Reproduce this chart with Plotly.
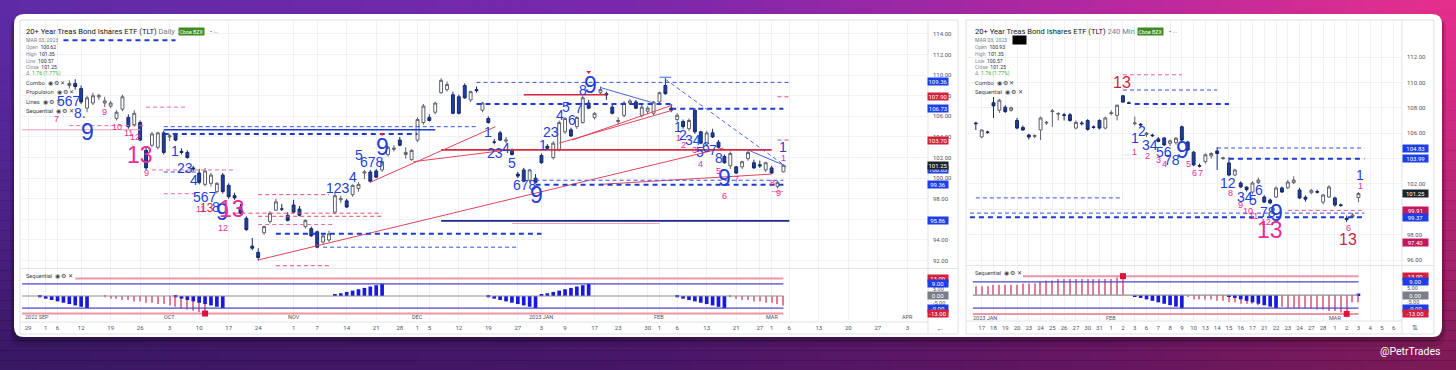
import plotly.graph_objects as go

W, H = 1456, 370
UI = "Roboto"
NUM = "Liberation Sans"


def fx(x):
    return x / W


def fy(y):
    return 1 - y / H


# ======================= DATA =======================
# ---- Left chart: TLT daily, x = trading-day index counted from 2022-08-29 ----
L_IDX = list(range(7, 129))
L_OPEN = [109.0, 109.2, 108.7, 106.8, 107.3, 107.9, 107.3, 107.0, 105.8, 106.7,
          105.9, 105.2, 105.4, 102.7, 103.2, 103.0, 104.4, 104.0, 104.2, 102.6,
          102.5, 101.0, 100.5, 99.4, 99.5, 98.7, 100.3, 99.3, 98.3, 97.2,
          96.1, 93.4, 92.8, 94.7, 95.8, 96.9, 97.0, 96.4, 97.4, 97.0,
          95.3, 95.1, 94.8, 93.8, 94.0, 96.7, 97.9, 97.8, 98.4, 99.0,
          100.5, 100.6, 100.7, 100.8, 102.3, 102.8, 103.7, 102.3, 101.8, 103.7,
          105.4, 105.9, 106.4, 108.3, 108.6, 108.1, 107.9, 109.0, 107.6, 108.6,
          106.6, 105.8, 103.5, 104.4, 103.6, 102.7, 100.4, 100.8, 99.8, 100.0,
          102.2, 103.1, 102.0, 102.8, 104.5, 104.7, 105.0, 105.4, 107.3, 105.9,
          108.3, 108.2, 106.9, 105.5, 106.1, 107.3, 107.4, 106.1, 106.5, 106.3,
          107.4, 109.0, 106.8, 105.7, 105.5, 104.8, 106.6, 104.5, 103.3, 104.4,
          103.5, 102.1, 101.2, 101.1, 101.1, 101.9, 101.5, 101.3, 100.8, 101.0,
          99.2, 100.62]
L_HIGH = [109.5, 109.6, 109.0, 108.0, 108.3, 108.2, 107.9, 107.5, 106.6, 108.1,
          106.2, 106.6, 105.6, 103.0, 104.5, 104.5, 104.6, 104.3, 104.4, 102.9,
          102.7, 101.2, 100.9, 101.0, 100.5, 99.6, 100.5, 99.5, 98.6, 97.5,
          96.3, 94.2, 93.2, 95.4, 96.8, 98.0, 97.5, 96.7, 97.9, 97.3,
          96.0, 95.3, 94.9, 94.6, 94.9, 98.6, 98.3, 98.0, 99.4, 99.6,
          100.8, 100.8, 100.9, 101.7, 103.1, 103.2, 104.0, 103.0, 102.8, 105.9,
          107.2, 106.2, 107.4, 109.7, 109.4, 108.4, 108.1, 109.2, 108.5, 108.9,
          107.4, 106.0, 103.8, 104.6, 104.0, 102.9, 100.6, 101.0, 100.9, 100.4,
          102.4, 103.3, 103.6, 105.6, 105.9, 104.9, 106.0, 108.0, 107.6, 106.4,
          108.9, 108.4, 107.2, 105.9, 107.5, 107.7, 107.6, 107.1, 107.0, 107.5,
          108.4, 109.7, 107.2, 106.3, 105.7, 105.8, 106.8, 104.6, 104.6, 104.8,
          103.7, 102.3, 102.6, 101.2, 101.7, 102.7, 101.8, 101.7, 101.6, 101.2,
          99.7, 101.35]
L_LOW = [108.7, 108.6, 107.2, 106.4, 107.1, 107.6, 106.9, 106.8, 105.6, 106.5,
         104.8, 105.0, 103.6, 100.8, 103.0, 102.8, 102.3, 103.6, 103.6, 102.3,
         101.9, 100.7, 99.4, 99.2, 99.2, 98.5, 98.5, 98.0, 97.9, 96.5,
         94.9, 93.0, 92.0, 94.5, 95.6, 96.8, 96.8, 95.8, 96.6, 96.3,
         95.1, 94.3, 93.2, 93.6, 93.8, 96.5, 97.6, 97.1, 98.2, 98.7,
         99.9, 99.6, 100.0, 100.6, 102.1, 102.6, 103.1, 101.9, 101.7, 103.5,
         105.2, 105.5, 106.2, 108.2, 108.4, 106.2, 106.2, 107.7, 107.4, 108.3,
         106.4, 105.3, 103.3, 103.6, 103.4, 102.2, 100.0, 99.6, 99.6, 99.5,
         101.4, 102.8, 101.8, 102.6, 104.3, 104.0, 104.8, 105.3, 106.7, 105.7,
         108.1, 107.6, 106.2, 105.2, 105.9, 107.1, 106.7, 105.9, 106.2, 106.1,
         107.2, 108.1, 106.4, 105.5, 104.8, 104.6, 104.3, 103.3, 103.1, 103.9,
         102.9, 101.4, 100.9, 100.4, 100.9, 101.7, 100.9, 101.0, 100.6, 100.4,
         99.0, 100.57]
L_CLOSE = [109.2, 108.9, 107.4, 107.8, 108.0, 108.0, 107.5, 107.3, 106.4, 107.9,
           105.0, 106.3, 103.7, 101.0, 104.3, 104.4, 102.5, 104.1, 103.7, 102.5,
           102.0, 100.9, 99.6, 100.7, 100.3, 99.5, 98.7, 98.2, 98.1, 96.6,
           95.0, 93.2, 92.3, 95.3, 96.6, 97.7, 97.0, 95.9, 96.7, 96.4,
           95.9, 94.4, 93.3, 94.4, 94.6, 98.3, 98.0, 97.2, 99.3, 99.4,
           100.6, 99.7, 100.1, 101.6, 103.0, 102.9, 103.2, 102.5, 102.7, 105.7,
           107.0, 105.6, 107.3, 109.5, 109.1, 106.3, 106.3, 107.8, 108.4, 108.5,
           107.3, 105.4, 103.5, 103.7, 103.7, 102.3, 100.2, 99.7, 100.8, 99.6,
           101.5, 102.9, 103.4, 105.4, 105.8, 104.1, 105.9, 107.8, 106.8, 106.3,
           108.6, 108.1, 106.3, 105.6, 107.3, 107.5, 106.8, 106.9, 106.8, 107.4,
           108.3, 108.2, 106.6, 106.1, 105.0, 105.6, 104.5, 103.4, 104.4, 104.0,
           103.0, 101.5, 102.4, 100.5, 101.6, 102.5, 101.0, 101.2, 101.5, 100.5,
           99.6, 101.25]

L_TICK_IDX = [0, 3, 5, 9, 14, 19, 24, 29, 34, 39, 45, 49, 54, 59, 63, 66, 68, 73, 78, 83,
              87, 91, 96, 100, 105, 107, 110, 115, 120, 124, 126, 129, 134, 139, 144, 149]
L_TICK_TXT = ["29", "1", "6", "12", "19", "26", "3", "10", "17", "24", "1", "7", "14", "21", "28",
              "1", "5", "12", "19", "27", "3", "9", "17", "23", "30", "1", "6", "13", "21", "27",
              "1", "6", "13", "20", "27", "3"]
L_MONTHS = [(1.5, "2022 SEP"), (24, "OCT"), (45, "NOV"), (66, "DEC"), (87, "2023 JAN"),
            (107, "FEB"), (126, "MAR"), (149, "APR")]

# TD sequential pane (left)
L_SETUP_IDX = [2, 3, 4, 5, 6, 7, 8, 9, 10,
               25, 26, 27, 28, 29, 30, 31, 32, 33,
               52, 53, 54, 55, 56, 57, 58, 59, 60,
               78, 79, 80, 81, 82, 83, 84, 85, 86,
               87, 88, 89, 90, 91, 92, 93, 94, 95,
               110, 111, 112, 113, 114, 115, 116, 117, 118]
L_SETUP_VAL = [-1, -2, -3, -4, -5, -6, -7, -8, -9,
               -1, -2, -3, -4, -5, -6, -7, -8, -9,
               1, 2, 3, 4, 5, 6, 7, 8, 9,
               -1, -2, -3, -4, -5, -6, -7, -8, -9,
               1, 2, 3, 4, 5, 6, 7, 8, 9,
               -1, -2, -3, -4, -5, -6, -7, -8, -9]
L_CD_IDX = [13, 14, 15, 16, 17, 18, 19, 20, 21, 22, 23, 24, 25, 26, 27, 28, 29, 30,
            119, 120, 121, 122, 123, 124, 125, 126, 127, 128]
L_CD_VAL = [-1, -2, -2, -3, -3, -4, -4, -5, -5, -6, -6, -7, -8, -9, -10, -11, -12, -13,
            -1, -2, -3, -3, -4, -4, -5, -5, -6, -7]
L_CD13 = [(30, -13)]

# levels / trend lines on the left price pane (x0, x1, price)
L_BLUE_DASH_THICK = [(6, 25, 113.4), (76, 109, 107.2), (109, 128, 106.73), (86, 128, 99.36),
                     (42, 87, 94.6), (23, 66, 104.3)]
L_BLUE_DASH_THIN = [(76, 129, 109.3), (86, 128, 99.8), (50, 83, 93.3), (23, 76, 105.0),
                    (23, 29, 100.6)]
L_BLUE_SOLID = [(23, 69, 104.7)]
L_NAVY_SOLID = [(70, 129, 95.86)]
L_PINK_DASH = [(20, 27, 106.9), (7, 20, 105.1), (21, 35, 100.8), (23, 29, 98.5), (39, 52, 95.5)]
L_RED_DASH = [(39, 51, 98.4), (35, 60, 96.6), (39, 60, 96.3), (42, 51, 91.5),
              (127, 129, 107.9), (127, 129, 103.7)]
L_PINK_SOLID = [(-1, 19, 104.7), (82, 107, 95.6), (126, 128, 98.7)]
L_RED_SOLID = [(70, 126, 102.75), (84, 98, 108.1)]
L_RED_DIAG = [((39, 92.06), (117.8, 102.93)), ((58, 99.6), (79.2, 105.0)),
              ((65.3, 101.6), (82.2, 102.8)), ((92.2, 103.7), (109.2, 107.1)),
              ((90, 103.4), (109.2, 106.6)), ((97, 99.4), (126, 100.4))]
L_BLUE_DIAG = [((97, 108.8), (106, 107.3)), ((122, 102.74), (128, 101.28)),
               ((107, 109.8), (109, 109.8))]
L_BLUE_DIAG_DASH = [((108, 109.6), (128.5, 101.1))]
L_SELL_MARKS = [(60, 104.3), (95, 110.3)]

# count labels (x, price, text)
L_BLUE_MID = [(7, 107.5, "567"), (8.8, 106.3, "8."), (24.9, 102.6, "1"), (26.6, 101.0, "23"),
              (28.1, 99.8, "4"), (30, 98.2, "567"), (31.9, 97.2, "8"), (52.5, 99.0, "123"),
              (55.1, 100.1, "4"), (56, 102.25, "5"), (58.3, 101.6, "678"), (78, 104.5, "1"),
              (79.2, 102.4, "23"), (81, 102.9, "4"), (82, 101.5, "5"), (84.2, 99.3, "678"),
              (87.3, 103.2, "1"), (88.6, 104.5, "23"), (90.2, 106.1, "4"), (91.2, 106.9, "5"),
              (92.2, 105.65, "6"), (93.4, 106.8, "7"), (94.1, 108.6, "8"), (110.2, 105.0, "1"),
              (111, 104.2, "2"), (112.7, 103.7, "34"), (113.9, 102.5, "5"), (114.9, 103.0, "6"),
              (116.1, 102.7, "7"), (117.1, 102.0, "8"), (128, 103.0, "1")]
L_BLUE_BIG = [(10, 104.5, "9"), (32.9, 96.7, "9"), (60, 103.0, "9"), (86.1, 98.4, "9"),
              (95.3, 109.05, "9"), (118, 100.0, "9")]
L_PINK_SMALL = [(4.9, 105.75, "7"), (13, 106.4, "9"), (15.1, 105.0, "10"), (17, 104.4, "11"),
                (18.1, 104.0, "12"), (20, 100.5, "9"), (29.2, 97.0, "11"), (33, 95.2, "12"),
                (110.2, 103.9, "1"), (111, 103.2, "2"), (113, 102.7, "3"), (114, 101.4, "4"),
                (117, 100.7, "5"), (118, 98.3, "6"), (120, 99.9, "7"), (126.1, 99.5, "8"),
                (127.1, 98.6, "9"), (128, 102.0, "1")]
L_PINK_BIG = [(19, 102.25, "13"), (34.6, 97.0, "13")]
L_RED_MID = [(30.3, 97.1, "13")]

L_AXIS_BOXES = [(109.36, "109.36", "blue"), (107.90, "107.90", "red"), (106.73, "106.73", "blue"),
                (103.70, "103.70", "red"), (100.83, "100.83", "blue"), (101.25, "101.25", "dark"),
                (99.36, "99.36", "blue"), (95.86, "95.86", "blue")]

# ---- Right chart: TLT 240 min, x = bar index (2 bars per day, 0 = Jan 17 2023 first bar) ----
R_IDX = list(range(-1, 65))
R_OPEN = [106.8, 105.7, 106.1, 108.4, 107.8, 108.05, 107.8, 107.0, 106.45, 105.85,
          105.75, 106.25, 106.8, 107.7, 107.5, 107.45, 107.45, 106.4, 106.8, 107.0,
          106.5, 107.0, 106.4, 107.55, 107.4, 108.95, 108.4, 106.75, 106.7, 105.9,
          105.85, 105.55, 105.62, 105.2, 105.25, 106.5, 105.3, 104.5, 103.45, 103.75,
          104.2, 104.6, 104.0, 103.65, 102.7, 102.07, 101.75, 101.36, 102.1, 100.97,
          100.73, 100.97, 101.68, 101.7, 102.1, 101.52, 100.95, 101.3, 101.4, 100.57,
          100.97, 100.89, 100.35, 99.3, 99.4, 100.93]
R_HIGH = [106.9, 106.3, 106.2, 108.85, 108.7, 108.2, 108.1, 107.2, 106.6, 105.95,
          105.9, 107.3, 106.95, 107.9, 107.65, 107.6, 107.6, 107.0, 106.95, 107.1,
          106.6, 107.1, 107.3, 107.8, 108.25, 109.0, 108.5, 107.3, 106.8, 106.1,
          105.95, 105.7, 105.7, 105.5, 105.7, 106.6, 105.4, 104.6, 103.6, 104.4,
          104.5, 104.9, 104.15, 104.1, 103.2, 102.2, 101.8, 102.2, 102.5, 101.1,
          100.85, 101.8, 101.8, 102.3, 102.6, 101.7, 101.1, 101.6, 101.55, 101.2,
          101.9, 101.0, 100.45, 99.5, 99.7, 101.35]
R_LOW = [106.25, 105.6, 105.95, 107.2, 107.6, 107.6, 107.7, 106.3, 106.2, 105.5,
         105.6, 105.45, 106.65, 106.5, 107.0, 107.0, 106.9, 106.3, 106.6, 106.2,
         106.35, 106.3, 106.3, 107.4, 107.0, 108.4, 108.3, 106.6, 106.5, 105.7,
         105.7, 105.3, 105.0, 105.0, 105.1, 105.3, 104.6, 103.4, 103.3, 103.6,
         104.0, 103.1, 103.9, 102.6, 102.6, 101.7, 101.4, 101.2, 102.0, 100.5,
         100.4, 100.9, 101.3, 101.6, 102.0, 100.8, 100.6, 101.2, 101.25, 100.4,
         100.9, 100.2, 100.2, 99.0, 99.3, 100.57]
R_CLOSE = [106.75, 106.25, 106.05, 108.15, 108.6, 107.7, 108.0, 106.4, 106.25, 105.7,
           105.8, 107.2, 106.85, 107.75, 107.55, 107.4, 107.0, 106.85, 106.75, 106.3,
           106.45, 106.4, 107.2, 107.6, 108.2, 108.45, 108.35, 106.8, 106.65, 106.0,
           105.8, 105.35, 105.07, 105.4, 105.6, 105.46, 104.67, 103.5, 103.4, 104.3,
           104.4, 104.4, 104.05, 102.7, 103.1, 101.76, 101.55, 102.07, 102.3, 100.57,
           100.5, 101.68, 101.36, 102.15, 102.3, 100.89, 100.8, 101.5, 101.35, 101.13,
           101.76, 100.34, 100.3, 99.2, 99.55, 101.25]

R_DAYS = ["17", "18", "19", "20", "23", "24", "25", "26", "27", "30", "31", "1", "2", "3",
          "6", "7", "8", "9", "10", "13", "14", "15", "16", "17", "21", "22", "23", "24",
          "27", "28", "1", "2", "3", "4", "5", "6"]
R_MONTHS = [(0.6, "2023 JAN"), (22, "FEB"), (60, "MAR")]

R_SETUP_IDX = [26, 27, 28, 29, 30, 31, 32, 33, 34, 42, 43, 44, 45, 46, 47, 48, 49, 50]
R_SETUP_VAL = [-1, -2, -3, -4, -5, -6, -7, -8, -9, -1, -2, -3, -4, -5, -6, -7, -8, -9]
R_CD_IDX = list(range(-1, 25)) + list(range(35, 65))
R_CD_VAL = [6, 6, 6, 7, 7, 7, 7, 7, 8, 8, 8, 9, 10, 10, 11, 11, 11, 11, 11, 11, 11, 11, 11, 11, 12, 13,
            -1, -3, -3, -3, -3, -4, -4, -5, -5, -6, -6, -6, -7, -7, -7, -8, -8, -9, -9, -9,
            -9, -9, -10, -10, -11, -11, -12, -13, -5, -5]
R_CD13 = [(24, 13), (62, -13)]
R_SETUP_TICK = [(64, 1)]

R_BLUE_DASH_THIN = [(24, 40, 109.4), (40, 65, 104.83), (-1, 24, 100.9), (-2, 65, 99.7)]
R_BLUE_DASH_THICK = [(26, 42, 108.3), (42, 65, 103.99), (-2, 65, 99.37)]
R_PINK_DASH = [(24, 34, 110.6), (52, 65, 99.91)]

R_BLUE_MID = [(26, 105.6, "1"), (27.3, 106.2, "2"), (28.6, 105.1, "34"), (30.9, 104.5, "56"),
              (32.4, 103.9, "78"), (41.9, 102.1, "12"), (44.8, 101.0, "34"), (46.1, 100.7, "5"),
              (47.1, 101.5, "6"), (48.7, 99.8, "78"), (64.3, 102.7, "1")]
R_BLUE_BIG = [(34.1, 104.7, "9"), (50, 99.7, "9")]
R_PINK_SMALL = [(26, 104.5, "1"), (28.1, 104.2, "2"), (30.1, 103.9, "3"), (31.1, 103.6, "4"),
                (35.1, 103.6, "5"), (36.1, 102.9, "6"), (37.1, 102.86, "7"), (42.2, 101.3, "8"),
                (44, 100.3, "9"), (45.2, 99.9, "10"), (46.1, 99.5, "11"), (48.3, 99.0, "12"),
                (64.3, 101.8, "1"), (62.3, 98.5, "6")]
R_PINK_BIG = [(49, 98.4, "13")]
R_RED_MID = [(23.9, 110.0, "13"), (62.3, 97.6, "13")]

R_AXIS_BOXES = [(104.83, "104.83", "blue"), (103.99, "103.99", "blue"), (101.25, "101.25", "dark"),
                (99.91, "99.91", "magenta"), (99.37, "99.37", "blue"), (97.40, "97.40", "magenta")]

SEQ_BOXES = [(13, "13.00", "red"), (9, "9.00", "blue"), (0, "0.00", "gray"),
             (-9, "-9.00", "blue"), (-13, "-13.00", "red")]

# ======================= STYLE =======================
BOX_COL = {"blue": "#1e3ee6", "red": "#d3203c", "dark": "#1e2329", "magenta": "#c2185f", "gray": "#7b7e87"}
BLUE_TXT = "#1f3fd6"
PINK_TXT = "#ea2c96"
RED_TXT = "#cf1f3a"
CANDLE_UP_LINE = "#5d606b"
CANDLE_DN_FILL = "#213f9f"
CANDLE_DN_LINE = "#15296b"
GRID = "#f0f1f5"
AXIS_TXT = "#50535e"

fig = go.Figure()


def hsegs(segs, xa, ya, color, width, dash="solid"):
    xs, ys = [], []
    for x0, x1, y in segs:
        xs += [x0, x1, None]
        ys += [y, y, None]
    fig.add_trace(go.Scatter(x=xs, y=ys, mode="lines", xaxis=xa, yaxis=ya, hoverinfo="skip",
                             line=dict(color=color, width=width, dash=dash), showlegend=False))


def dsegs(segs, xa, ya, color, width, dash="solid"):
    xs, ys = [], []
    for (x0, y0), (x1, y1) in segs:
        xs += [x0, x1, None]
        ys += [y0, y1, None]
    fig.add_trace(go.Scatter(x=xs, y=ys, mode="lines", xaxis=xa, yaxis=ya, hoverinfo="skip",
                             line=dict(color=color, width=width, dash=dash), showlegend=False))


# ---- left price pane lines ----
hsegs(L_PINK_SOLID, "x", "y", "#eaa0b6", 1.2)
hsegs(L_PINK_DASH, "x", "y", "#ec6aa0", 1, "4px,3px")
hsegs(L_RED_DASH, "x", "y", "#e0506a", 1, "4px,3px")
hsegs(L_RED_SOLID, "x", "y", "#d8283f", 1.6)
dsegs(L_RED_DIAG, "x", "y", "#e0455c", 1)
hsegs(L_NAVY_SOLID, "x", "y", "#1b2a8f", 1.8)
hsegs(L_BLUE_SOLID, "x", "y", "#1e3bd0", 1.6)
hsegs(L_BLUE_DASH_THIN, "x", "y", "#3550e0", 1, "4px,3px")
hsegs(L_BLUE_DASH_THICK, "x", "y", "#1e3bd0", 2, "5px,4px")
dsegs(L_BLUE_DIAG, "x", "y", "#4a63d8", 1)
dsegs(L_BLUE_DIAG_DASH, "x", "y", "#4a63d8", 1, "4px,3px")

fig.add_trace(go.Candlestick(
    x=L_IDX, open=L_OPEN, high=L_HIGH, low=L_LOW, close=L_CLOSE, xaxis="x", yaxis="y",
    increasing=dict(fillcolor="#ffffff", line=dict(color=CANDLE_UP_LINE, width=1)),
    decreasing=dict(fillcolor=CANDLE_DN_FILL, line=dict(color=CANDLE_DN_LINE, width=1)),
    whiskerwidth=0, showlegend=False, hoverinfo="skip"))
fig.add_trace(go.Scatter(x=[p[0] for p in L_SELL_MARKS], y=[p[1] for p in L_SELL_MARKS],
                         mode="markers", xaxis="x", yaxis="y", showlegend=False, hoverinfo="skip",
                         marker=dict(symbol="triangle-down", size=4, color="#d3203c")))

# ---- left sequential pane ----
for lvl, col, wd, x0 in [(13, "#eb97a3", 2, 8), (9, "#4747d0", 1.2, -1), (0, "#8d8f96", 1.2, -1),
                         (-9, "#4747d0", 1.2, -1), (-13, "#eb97a3", 2, -1)]:
    hsegs([(x0, 128, lvl)], "x2", "y2", col, wd)
fig.add_trace(go.Bar(x=L_CD_IDX, y=L_CD_VAL, width=0.2, marker=dict(color="#e27d96", line_width=0),
                     xaxis="x2", yaxis="y2", showlegend=False, hoverinfo="skip"))
fig.add_trace(go.Bar(x=L_SETUP_IDX, y=L_SETUP_VAL, width=0.62, marker=dict(color="#1818e0", line_width=0),
                     xaxis="x2", yaxis="y2", showlegend=False, hoverinfo="skip"))
fig.add_trace(go.Scatter(x=[p[0] for p in L_CD13], y=[p[1] for p in L_CD13], mode="markers",
                         xaxis="x2", yaxis="y2", showlegend=False, hoverinfo="skip",
                         marker=dict(symbol="square", size=6, color="#e0103a")))

# ---- right price pane ----
hsegs(R_PINK_DASH, "x3", "y3", "#ec5f9a", 1, "4px,3px")
hsegs(R_BLUE_DASH_THIN, "x3", "y3", "#3550e0", 1, "4px,3px")
hsegs(R_BLUE_DASH_THICK, "x3", "y3", "#1e3bd0", 2, "5px,4px")
fig.add_trace(go.Candlestick(
    x=R_IDX, open=R_OPEN, high=R_HIGH, low=R_LOW, close=R_CLOSE, xaxis="x3", yaxis="y3",
    increasing=dict(fillcolor="#ffffff", line=dict(color=CANDLE_UP_LINE, width=1)),
    decreasing=dict(fillcolor=CANDLE_DN_FILL, line=dict(color=CANDLE_DN_LINE, width=1)),
    whiskerwidth=0, showlegend=False, hoverinfo="skip"))

# ---- right sequential pane ----
for lvl, col, wd, x0 in [(13, "#eb97a3", 2, 7), (9, "#4747d0", 1.2, -1.5), (0, "#8d8f96", 1.2, -1.5),
                         (-9, "#4747d0", 1.2, -1.5), (-13, "#eb97a3", 2, -1.5)]:
    hsegs([(x0, 64, lvl)], "x4", "y4", col, wd)
fig.add_trace(go.Bar(x=R_CD_IDX, y=R_CD_VAL, width=0.2, marker=dict(color="#e27d96", line_width=0),
                     xaxis="x4", yaxis="y4", showlegend=False, hoverinfo="skip"))
fig.add_trace(go.Bar(x=R_SETUP_IDX, y=R_SETUP_VAL, width=0.62, marker=dict(color="#1818e0", line_width=0),
                     xaxis="x4", yaxis="y4", showlegend=False, hoverinfo="skip"))
fig.add_trace(go.Bar(x=[p[0] for p in R_SETUP_TICK], y=[p[1] for p in R_SETUP_TICK], width=0.62,
                     marker=dict(color="#1818e0", line_width=0),
                     xaxis="x4", yaxis="y4", showlegend=False, hoverinfo="skip"))
fig.add_trace(go.Scatter(x=[p[0] for p in R_CD13], y=[p[1] for p in R_CD13], mode="markers",
                         xaxis="x4", yaxis="y4", showlegend=False, hoverinfo="skip",
                         marker=dict(symbol="square", size=6, color="#e0103a")))

# ======================= ANNOTATIONS =======================
ann = []


def labels(items, xr, yr, color, size):
    for x, y, t in items:
        ann.append(dict(x=x, y=y, xref=xr, yref=yr, text=t, showarrow=False,
                        xanchor="center", yanchor="middle",
                        font=dict(family=NUM, size=size, color=color)))


labels(L_BLUE_MID, "x", "y", BLUE_TXT, 14)
labels(L_BLUE_BIG, "x", "y", BLUE_TXT, 23)
labels(L_PINK_SMALL, "x", "y", PINK_TXT, 9)
labels(L_PINK_BIG, "x", "y", PINK_TXT, 23)
labels(L_RED_MID, "x", "y", RED_TXT, 12)
labels(R_BLUE_MID, "x3", "y3", BLUE_TXT, 14)
labels(R_BLUE_BIG, "x3", "y3", BLUE_TXT, 23)
labels(R_PINK_SMALL, "x3", "y3", PINK_TXT, 9)
labels(R_PINK_BIG, "x3", "y3", PINK_TXT, 23)
labels(R_RED_MID, "x3", "y3", RED_TXT, 16)


def boxes(items, xpix, yr, w):
    for v, t, kind in items:
        ann.append(dict(x=fx(xpix), y=v, xref="paper", yref=yr, text=t, showarrow=False,
                        xanchor="center", yanchor="middle",
                        bgcolor=BOX_COL[kind], width=w, height=7, borderpad=0,
                        font=dict(family=UI, size=6, color="white")))


boxes(L_AXIS_BOXES, 938, "y", 20)
boxes(SEQ_BOXES, 938, "y2", 20)
boxes(R_AXIS_BOXES, 1415, "y3", 25)
boxes(SEQ_BOXES, 1415, "y4", 25)

for x, t in L_MONTHS:
    ann.append(dict(x=x, y=fy(317), xref="x2", yref="paper", text=t, showarrow=False,
                    xanchor="center", yanchor="middle",
                    font=dict(family=UI, size=5.5, color=AXIS_TXT)))
for x, t in R_MONTHS:
    ann.append(dict(x=x, y=fy(318), xref="x4", yref="paper", text=t, showarrow=False,
                    xanchor="center", yanchor="middle",
                    font=dict(family=UI, size=5.5, color=AXIS_TXT)))


def ptext(x, y, t, size=6, color="#131722", anchor="left", **kw):
    d = dict(x=fx(x), y=fy(y), xref="paper", yref="paper", text=t, showarrow=False,
             xanchor=anchor, yanchor="middle", font=dict(family=UI, size=size, color=color))
    d.update(kw)
    ann.append(d)


def legend_block(x0, title, o, h, l, c, rows, extra_black):
    ptext(x0, 31, title, 7.6, "#131722")
    ptext(x0, 40, "MAR 03, 2023", 5.2, "#787b86")
    if extra_black:
        ptext(x0 + 39, 40, "&nbsp;" * 9, 5, "#000", bgcolor="#000000")
    vals = [("Open", o), ("High", h), ("Low", l), ("Close", c)]
    for k, (a, b) in enumerate(vals):
        ptext(x0, 47 + k * 6.8, f"<span style='color:#8a8d96'>{a}</span>&nbsp;&nbsp;{b}", 5.1, "#2a2e39")
    ptext(x0, 74, "<span style='color:#8a8d96'>Δ</span>&nbsp;&nbsp;1.76 (1.77%)", 5.1, "#2fae38")
    for k, r in enumerate(rows):
        ptext(x0, 83 + k * 9.4, r + "&nbsp;&nbsp;◉&nbsp;⚙&nbsp;✕", 5.8, "#3b3f4a")


legend_block(24, "20+ Year Treas Bond Ishares ETF (TLT) <span style='color:#787b86'>Daily</span>",
             "100.62", "101.35", "100.57", "101.25", ["Combo", "Propulsion", "Lines", "Sequential"], False)
ptext(178, 31, "Cboe BZX", 5.3, "white", bgcolor="#3e8c22", borderpad=0.5)
ptext(208, 31, "•&nbsp;···", 6, "#3b3f4a")
legend_block(973, "20+ Year Treas Bond Ishares ETF (TLT) <span style='color:#787b86'>240 Min</span>",
             "100.93", "101.35", "100.57", "101.25", ["Combo", "Sequential"], True)
ptext(1137, 31, "Cboe BZX", 5.3, "white", bgcolor="#3e8c22", borderpad=0.5)
ptext(1167, 31, "•&nbsp;···", 6, "#3b3f4a")
ptext(24, 276, "Sequential&nbsp;&nbsp;◉&nbsp;⚙&nbsp;✕", 5.6, "#3b3f4a")
ptext(973, 273, "Sequential&nbsp;&nbsp;◉&nbsp;⚙&nbsp;✕", 5.6, "#3b3f4a")
ptext(940, 328, "←", 8, "#50535e", anchor="center")
ptext(1415, 328, "⇅", 7, "#50535e", anchor="center")
ptext(1442, 351, "@PetrTrades", 10.5, "#ffffff", anchor="right")

# ======================= SHAPES (background, card, frames) =======================
shapes = []
TOP_STOPS = [(0.0, (94, 44, 166)), (0.45, (124, 40, 172)), (0.75, (180, 40, 160)), (1.0, (230, 48, 140))]


def grad(t):
    for (t0, c0), (t1, c1) in zip(TOP_STOPS, TOP_STOPS[1:]):
        if t <= t1:
            u = (t - t0) / (t1 - t0)
            return tuple(int(c0[i] + (c1[i] - c0[i]) * u) for i in range(3))
    return TOP_STOPS[-1][1]


N = 80
for i in range(N):
    r, g, b = grad((i + 0.5) / N)
    shapes.append(dict(type="rect", xref="paper", yref="paper", x0=i / N, x1=(i + 1) / N + 0.002,
                       y0=0, y1=1, fillcolor=f"rgb({r},{g},{b})", line_width=0, layer="below"))
M = 37
for j in range(M):
    a = 0.5 * ((j + 0.5) / M) ** 1.4
    shapes.append(dict(type="rect", xref="paper", yref="paper", x0=0, x1=1,
                       y0=fy(j * 10 + 10.5), y1=fy(j * 10), fillcolor=f"rgba(18,4,30,{a:.3f})",
                       line_width=0, layer="below"))


def rrect(x0, y0, x1, y1, r):
    rx, ry = r / W, r / H
    X0, X1, Y0, Y1 = fx(x0), fx(x1), fy(y0), fy(y1)
    return (f"M {X0 + rx},{Y0} L {X1 - rx},{Y0} Q {X1},{Y0} {X1},{Y0 - ry} "
            f"L {X1},{Y1 + ry} Q {X1},{Y1} {X1 - rx},{Y1} L {X0 + rx},{Y1} Q {X0},{Y1} {X0},{Y1 + ry} "
            f"L {X0},{Y0 - ry} Q {X0},{Y0} {X0 + rx},{Y0} Z")


shapes.append(dict(type="path", xref="paper", yref="paper", path=rrect(10, 16, 1446, 347, 14),
                   fillcolor="rgba(0,0,0,0.10)", line_width=0, layer="below"))
shapes.append(dict(type="path", xref="paper", yref="paper", path=rrect(12, 16, 1444, 342, 12),
                   fillcolor="rgba(0,0,0,0.18)", line_width=0, layer="below"))
shapes.append(dict(type="path", xref="paper", yref="paper", path=rrect(14, 14, 1442, 337, 10),
                   fillcolor="#ffffff", line_width=0, layer="below"))


def pline(x0, y0, x1, y1, color="#e0e3eb", w=1):
    shapes.append(dict(type="line", xref="paper", yref="paper", x0=fx(x0), y0=fy(y0), x1=fx(x1), y1=fy(y1),
                       line=dict(color=color, width=w), layer="below"))


for (a, b) in [(20, 958), (966, 1434)]:
    shapes.append(dict(type="rect", xref="paper", yref="paper", x0=fx(a), x1=fx(b), y0=fy(334), y1=fy(20),
                       line=dict(color="#dfe1e6", width=1), fillcolor="rgba(0,0,0,0)", layer="below"))
pline(928, 20, 928, 334)
pline(20, 268.5, 958, 268.5)
pline(20, 322, 928, 322)
pline(1402, 20, 1402, 334)
pline(966, 265.5, 1434, 265.5)
pline(966, 321, 1402, 321)

# ======================= LAYOUT =======================
ax_common = dict(showline=False, zeroline=False, ticks="", showgrid=True, gridcolor=GRID, gridwidth=1)
yfont = dict(family=UI, size=6, color=AXIS_TXT)

fig.update_layout(
    width=W, height=H, margin=dict(l=0, r=0, t=0, b=0), autosize=False,
    paper_bgcolor="#5a2478", plot_bgcolor="rgba(0,0,0,0)", barmode="overlay",
    showlegend=False, hovermode=False,
    xaxis=dict(domain=[fx(22), fx(928)], range=[-1.02, 152.5], anchor="y", tickvals=L_TICK_IDX,
               showticklabels=False, rangeslider=dict(visible=False), **ax_common),
    yaxis=dict(domain=[fy(268), fy(21)], range=[91.28, 115.26], anchor="x", side="right",
               tickvals=[92, 94, 96, 98, 100, 102, 104, 106, 108, 110, 112, 114],
               ticktext=["92.00", "94.00", "96.00", "98.00", "100.00", "102.00", "104.00", "106.00",
                         "108.00", "110.00", "112.00", "114.00"],
               tickfont=yfont, ticklabelstandoff=4, **ax_common),
    xaxis2=dict(domain=[fx(22), fx(928)], range=[-1.02, 152.5], anchor="y2", tickvals=L_TICK_IDX,
                ticktext=L_TICK_TXT, tickfont=dict(family=UI, size=6, color=AXIS_TXT),
                ticklabelstandoff=3, **ax_common),
    yaxis2=dict(domain=[fy(320), fy(269)], range=[-17.8, 20], anchor="x2", side="right",
                tickvals=[5, -5], ticktext=["5.00", "-5.00"], tickfont=dict(family=UI, size=5.5, color=AXIS_TXT),
                ticklabelstandoff=4, showline=False, zeroline=False, ticks="", showgrid=False),
    xaxis3=dict(domain=[fx(968), fx(1402)], range=[-2.33, 71.4], anchor="y3",
                tickvals=[2 * i for i in range(len(R_DAYS))], showticklabels=False,
                rangeslider=dict(visible=False), **ax_common),
    yaxis3=dict(domain=[fy(265), fy(21)], range=[95.61, 114.84], anchor="x3", side="right",
                tickvals=[96, 98, 100, 102, 104, 106, 108, 110, 112],
                ticktext=["96.00", "98.00", "100.00", "102.00", "104.00", "106.00", "108.00", "110.00", "112.00"],
                tickfont=yfont, ticklabelstandoff=4, **ax_common),
    xaxis4=dict(domain=[fx(968), fx(1402)], range=[-2.33, 71.4], anchor="y4",
                tickvals=[2 * i for i in range(len(R_DAYS))], ticktext=R_DAYS,
                tickfont=dict(family=UI, size=6, color=AXIS_TXT), ticklabelstandoff=3, **ax_common),
    yaxis4=dict(domain=[fy(320), fy(266)], range=[-17.2, 20], anchor="x4", side="right",
                tickvals=[5, -5], ticktext=["5.00", "-5.00"], tickfont=dict(family=UI, size=5.5, color=AXIS_TXT),
                ticklabelstandoff=4, showline=False, zeroline=False, ticks="", showgrid=False),
    annotations=ann, shapes=shapes,
)

fig.write_html("out.html", config={"displayModeBar": False},
               post_script="document.body.style.margin='0px';document.body.style.overflow='hidden';")
